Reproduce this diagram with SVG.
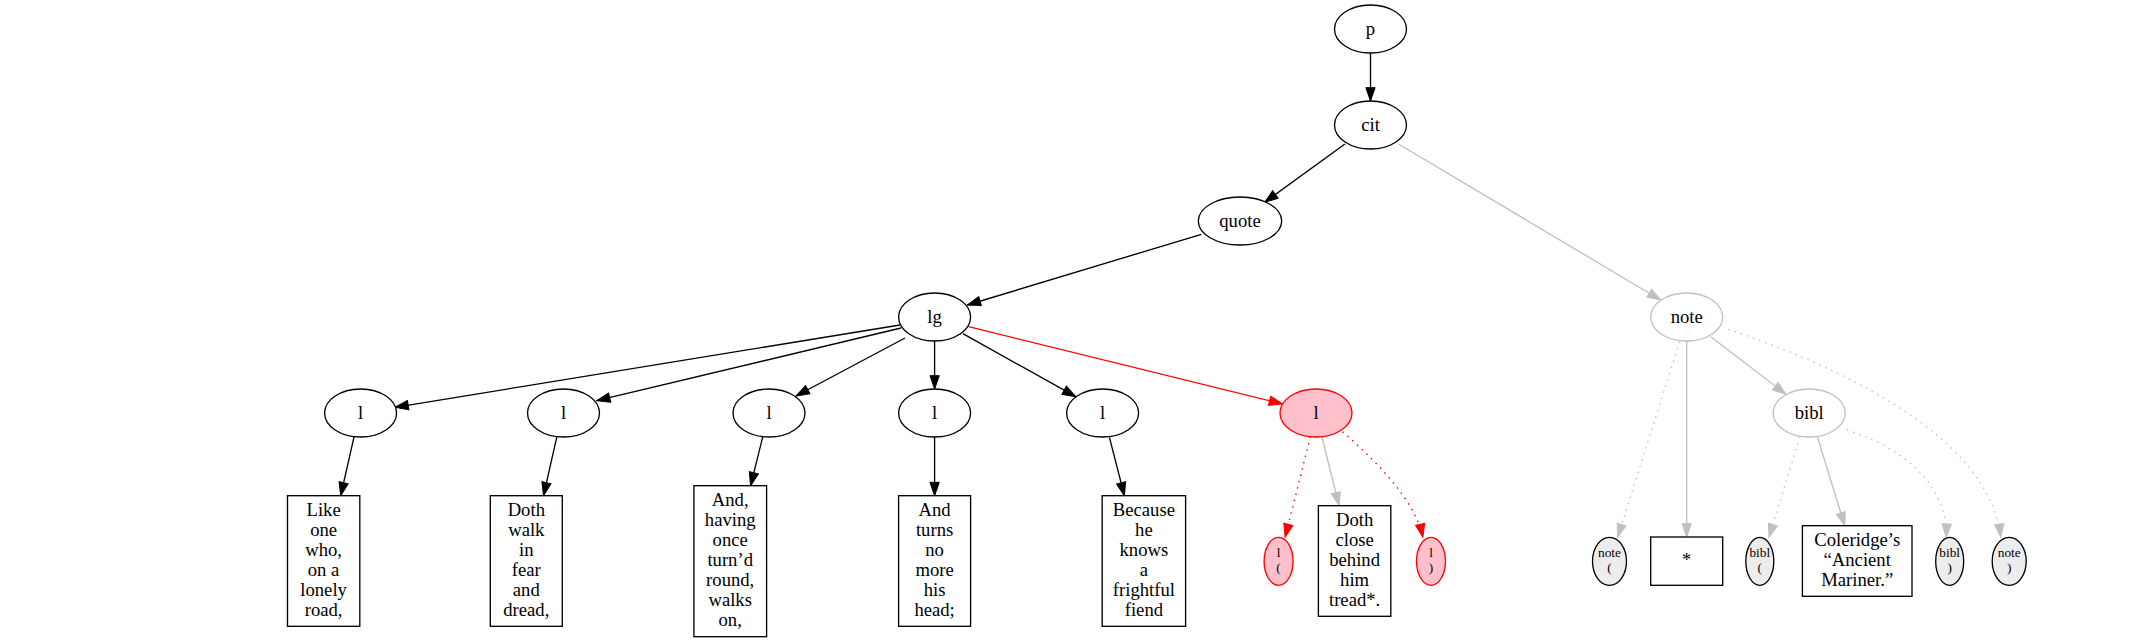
<svg xmlns="http://www.w3.org/2000/svg" width="2139" height="643" viewBox="0 0 2139 643">
<style>
  text { font-family: "Liberation Serif", "Times New Roman", serif; font-size: 18.67px; text-anchor: middle; fill: #000; }
  text.sm { font-size: 13.33px; }
  .n { fill: #fff; stroke: #000; stroke-width: 1.33; }
  .ng { fill: #fff; stroke: #c0c0c0; stroke-width: 1.33; }
  .np { fill: #ffc0cb; stroke: #ff0000; stroke-width: 1.33; }
  .ns { fill: #ededed; stroke: #000; stroke-width: 1.33; }
  .e { fill: none; stroke: #000; stroke-width: 1.33; marker-end: url(#ab); }
  .er { fill: none; stroke: #ff0000; stroke-width: 1.33; marker-end: url(#ar); }
  .eg { fill: none; stroke: #c0c0c0; stroke-width: 1.33; marker-end: url(#ag); }
  .dot { stroke-dasharray: 1.5 5; }
</style>
<defs>
  <marker id="ab" markerUnits="userSpaceOnUse" markerWidth="14" markerHeight="10" refX="13.33" refY="4.67" orient="auto" overflow="visible">
    <path d="M0,0 L13.33,4.67 L0,9.33 Z" fill="#000" stroke="#000" stroke-width="1"/>
  </marker>
  <marker id="ar" markerUnits="userSpaceOnUse" markerWidth="14" markerHeight="10" refX="13.33" refY="4.67" orient="auto" overflow="visible">
    <path d="M0,0 L13.33,4.67 L0,9.33 Z" fill="#ff0000" stroke="#ff0000" stroke-width="1"/>
  </marker>
  <marker id="ag" markerUnits="userSpaceOnUse" markerWidth="14" markerHeight="10" refX="13.33" refY="4.67" orient="auto" overflow="visible">
    <path d="M0,0 L13.33,4.67 L0,9.33 Z" fill="#c0c0c0" stroke="#c0c0c0" stroke-width="1"/>
  </marker>
</defs>
<rect width="2139" height="643" fill="#fff"/>

<g id="edges">
  <path class="e" d="M1370.5,53 L1370.5,101"/>
  <path class="e" d="M1344.9,144 L1264.6,202.3"/>
  <path class="eg" d="M1398.5,144 L1660.7,300"/>
  <path class="e" d="M1201.4,234.3 L967.3,305"/>
  <path class="e" d="M900,325 L395,407.3"/>
  <path class="e" d="M901,328 L596.7,400.7"/>
  <path class="e" d="M905,338 L796,396"/>
  <path class="e" d="M934.6,341 L934.6,389"/>
  <path class="e" d="M962.9,333.7 L1075.8,396.7"/>
  <path class="er" d="M968.6,326.7 L1282.5,404"/>
  <path class="e" d="M354.1,436.7 L340.7,495.7"/>
  <path class="e" d="M556.9,436.7 L543.5,495.7"/>
  <path class="e" d="M762.8,436.7 L750.6,485.7"/>
  <path class="e" d="M934.6,437 L934.6,495.7"/>
  <path class="e" d="M1109.5,437.7 L1124.4,495.7"/>
  <path class="er dot" d="M1310.4,436.7 L1285.1,537.3"/>
  <path class="eg" d="M1321.9,437 L1339.1,505.7"/>
  <path class="er dot" d="M1342.5,431.7 C1375,460 1415,500 1422.9,537.3"/>
  <path class="eg dot" d="M1679.6,341.7 L1617.6,537.3"/>
  <path class="eg" d="M1686.7,341 L1686.7,537"/>
  <path class="eg" d="M1710.8,336.7 L1785.9,394.3"/>
  <path class="eg dot" d="M1728.4,329.3 C1850,370 1990,440 2000.7,537.3"/>
  <path class="eg dot" d="M1799.8,436.7 L1769,537.3"/>
  <path class="eg" d="M1817.4,437 L1844.8,525.7"/>
  <path class="eg dot" d="M1846.7,430 C1910,450 1948,490 1946.3,537.3"/>
</g>

<g id="node-p"><ellipse class="n" cx="1370.5" cy="29" rx="36" ry="24"/><text x="1370.5" y="34.5">p</text></g>
<g id="node-cit"><ellipse class="n" cx="1370.5" cy="125" rx="36" ry="24"/><text x="1370.5" y="130.5">cit</text></g>
<g id="node-quote"><ellipse class="n" cx="1240" cy="221" rx="41.7" ry="24"/><text x="1240" y="226.5">quote</text></g>
<g id="node-lg"><ellipse class="n" cx="934.6" cy="317" rx="36" ry="24"/><text x="934.6" y="322.5">lg</text></g>
<g id="node-note"><ellipse class="ng" cx="1686.7" cy="317" rx="36" ry="24"/><text x="1686.7" y="322.5">note</text></g>

<g id="node-l1"><ellipse class="n" cx="360.6" cy="413" rx="36" ry="24"/><text x="360.6" y="418.5">l</text></g>
<g id="node-l2"><ellipse class="n" cx="563.5" cy="413" rx="36" ry="24"/><text x="563.5" y="418.5">l</text></g>
<g id="node-l3"><ellipse class="n" cx="769" cy="413" rx="36" ry="24"/><text x="769" y="418.5">l</text></g>
<g id="node-l4"><ellipse class="n" cx="934.6" cy="413" rx="36" ry="24"/><text x="934.6" y="418.5">l</text></g>
<g id="node-l5"><ellipse class="n" cx="1102.6" cy="413" rx="36" ry="24"/><text x="1102.6" y="418.5">l</text></g>
<g id="node-l6"><ellipse class="np" cx="1316" cy="413" rx="36" ry="24"/><text x="1316" y="418.5">l</text></g>
<g id="node-bibl"><ellipse class="ng" cx="1809.2" cy="413" rx="36" ry="24"/><text x="1809.2" y="418.5">bibl</text></g>

<g id="node-t1"><rect class="n" x="287.5" y="495.7" width="72.3" height="130.6"/>
  <text x="323.6" y="516">Like</text><text x="323.6" y="536">one</text><text x="323.6" y="556">who,</text><text x="323.6" y="576">on a</text><text x="323.6" y="596">lonely</text><text x="323.6" y="616">road,</text></g>
<g id="node-t2"><rect class="n" x="490.3" y="495.7" width="72" height="130.6"/>
  <text x="526.3" y="516">Doth</text><text x="526.3" y="536">walk</text><text x="526.3" y="556">in</text><text x="526.3" y="576">fear</text><text x="526.3" y="596">and</text><text x="526.3" y="616">dread,</text></g>
<g id="node-t3"><rect class="n" x="693.9" y="485.7" width="72.7" height="151"/>
  <text x="730.2" y="506">And,</text><text x="730.2" y="526">having</text><text x="730.2" y="546">once</text><text x="730.2" y="566">turn’d</text><text x="730.2" y="586">round,</text><text x="730.2" y="606">walks</text><text x="730.2" y="626">on,</text></g>
<g id="node-t4"><rect class="n" x="898.6" y="495.7" width="72" height="130.6"/>
  <text x="934.6" y="516">And</text><text x="934.6" y="536">turns</text><text x="934.6" y="556">no</text><text x="934.6" y="576">more</text><text x="934.6" y="596">his</text><text x="934.6" y="616">head;</text></g>
<g id="node-t5"><rect class="n" x="1102.2" y="495.7" width="83.4" height="130.6"/>
  <text x="1143.9" y="516">Because</text><text x="1143.9" y="536">he</text><text x="1143.9" y="556">knows</text><text x="1143.9" y="576">a</text><text x="1143.9" y="596">frightful</text><text x="1143.9" y="616">fiend</text></g>
<g id="node-lopen"><ellipse class="np" cx="1278.6" cy="561.3" rx="14.5" ry="24"/><text class="sm" x="1278.6" y="557">l</text><text class="sm" x="1278.6" y="572">(</text></g>
<g id="node-t6"><rect class="n" x="1318.4" y="505.7" width="72.4" height="110.6"/>
  <text x="1354.6" y="526">Doth</text><text x="1354.6" y="546">close</text><text x="1354.6" y="566">behind</text><text x="1354.6" y="586">him</text><text x="1354.6" y="606">tread*.</text></g>
<g id="node-lclose"><ellipse class="np" cx="1431" cy="561.3" rx="14.5" ry="24"/><text class="sm" x="1431" y="557">l</text><text class="sm" x="1431" y="572">)</text></g>

<g id="node-noteopen"><ellipse class="ns" cx="1609.5" cy="561.3" rx="17" ry="24"/><text class="sm" x="1609.5" y="557">note</text><text class="sm" x="1609.5" y="572">(</text></g>
<g id="node-star"><rect class="n" x="1650.7" y="537" width="72" height="48.3"/><text x="1686.7" y="566">*</text></g>
<g id="node-biblopen"><ellipse class="ns" cx="1759.8" cy="561.3" rx="14" ry="24"/><text class="sm" x="1759.8" y="557">bibl</text><text class="sm" x="1759.8" y="572">(</text></g>
<g id="node-t7"><rect class="n" x="1802.4" y="525.7" width="109.6" height="70.6"/>
  <text x="1857.2" y="546">Coleridge’s</text><text x="1857.2" y="566">“Ancient</text><text x="1857.2" y="586">Mariner.”</text></g>
<g id="node-biblclose"><ellipse class="ns" cx="1949.7" cy="561.3" rx="14" ry="24"/><text class="sm" x="1949.7" y="557">bibl</text><text class="sm" x="1949.7" y="572">)</text></g>
<g id="node-noteclose"><ellipse class="ns" cx="2009.2" cy="561.3" rx="17" ry="24"/><text class="sm" x="2009.2" y="557">note</text><text class="sm" x="2009.2" y="572">)</text></g>
</svg>
